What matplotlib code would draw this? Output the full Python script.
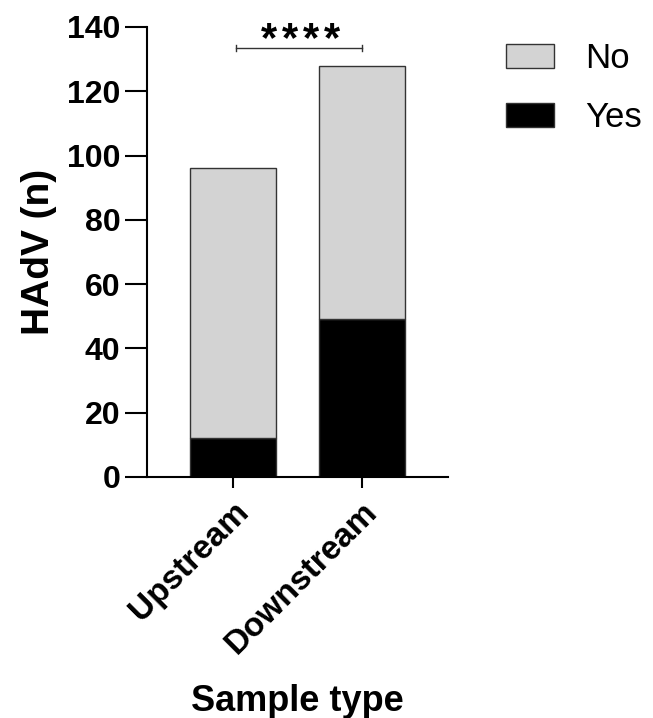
import matplotlib.pyplot as plt
import numpy as np

plt.rcParams['font.family'] = ['Liberation Sans', 'DejaVu Sans']

categories = ['Upstream', 'Downstream']
yes_counts = [12, 49]
no_counts = [84, 79]   # totals 96 and 128
yticks = [0, 20, 40, 60, 80, 100, 120, 140]

fig = plt.figure(figsize=(6.53, 7.18), dpi=100)
ax = fig.add_axes([0.225, 0.3357, 0.461, 0.6267])

x = np.arange(len(categories))
w = 0.667
ax.bar(x, yes_counts, w, color='black', edgecolor='#333333', linewidth=1, label='Yes')
ax.bar(x, no_counts, w, bottom=yes_counts, color='#d3d3d3', edgecolor='#333333',
       linewidth=1, label='No')

ax.set_xlim(-0.667, 1.667)
ax.set_ylim(0, 140)
ax.set_yticks(yticks)
ax.set_xticks(x)
ax.set_xticklabels(categories, rotation=45, ha='right', rotation_mode='anchor',
                   fontsize=24, fontweight='bold')
for lab in ax.get_yticklabels():
    lab.set_fontsize(23)
    lab.set_fontweight('bold')

for s in ['top', 'right']:
    ax.spines[s].set_visible(False)
for s in ['left', 'bottom']:
    ax.spines[s].set_linewidth(1.5)
ax.tick_params(axis='y', length=16, width=1.5, pad=3)
ax.tick_params(axis='x', length=8, width=1.5, pad=6)

ax.set_ylabel('HAdV (n)', fontsize=28, fontweight='bold', labelpad=7)
ax.set_xlabel('Sample type', fontsize=26, fontweight='bold', labelpad=17)

# significance bracket
by = 133.5
ax.plot([0.02, 1.0], [by, by], color='#333333', lw=1, clip_on=False)
ax.plot([0.02, 0.02], [by - 1, by + 1], color='#333333', lw=1, clip_on=False)
ax.plot([1.0, 1.0], [by - 1, by + 1], color='#333333', lw=1, clip_on=False)
for i in range(4):
    ax.text(0.523 + (i - 1.5) * 0.163, 135.9, '*', ha='center', va='center',
            fontsize=30, fontweight='bold', clip_on=False)

h, l = ax.get_legend_handles_labels()
fig.legend(h[::-1], l[::-1], loc='upper left', bbox_to_anchor=(0.754, 0.961),
           frameon=False, fontsize=25, handlelength=1.38, handleheight=0.69,
           handletextpad=0.88, labelspacing=0.75, borderaxespad=0)

fig.savefig('out.png', dpi=100)
